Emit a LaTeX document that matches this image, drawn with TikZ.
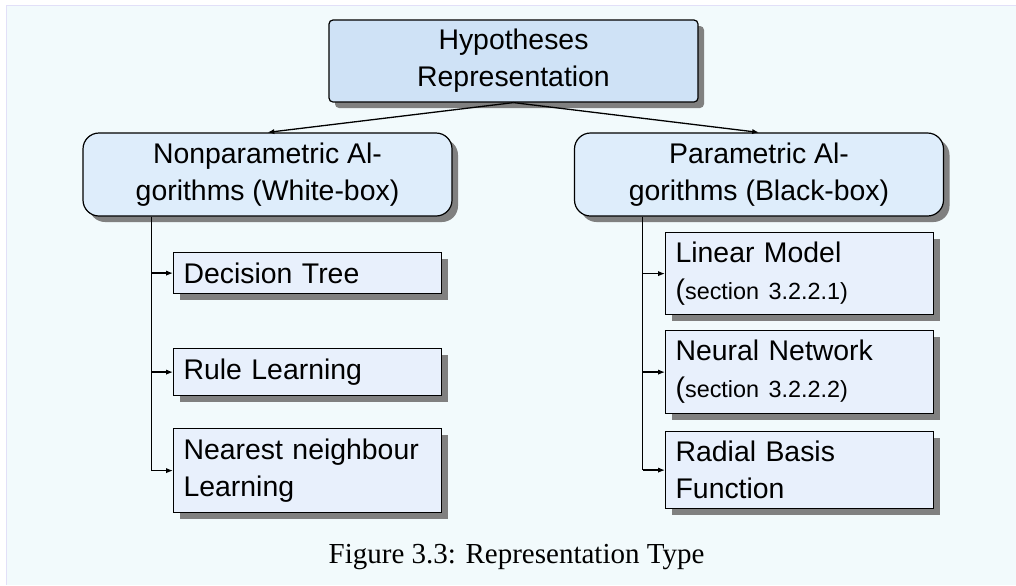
\documentclass[tikz,border=0pt]{standalone}
\usepackage{fontspec}
\setmainfont{Liberation Serif}
\setsansfont{Liberation Sans}
\usetikzlibrary{arrows.meta,shadows}

\definecolor{bgfill}{RGB}{242,250,252}
\definecolor{bgline}{RGB}{226,224,248}
\definecolor{rootfill}{RGB}{207,226,246}
\definecolor{groupfill}{RGB}{222,237,251}
\definecolor{leaffill}{RGB}{232,240,252}

\tikzset{
  wire/.style={line width=0.65pt},
  link/.style={wire, -{Latex[length=3.4pt,width=2.6pt]}},
  boxbase/.style={draw=black, line width=0.6pt,
    font=\sffamily\fontsize{14.2}{18.5}\selectfont,
    drop shadow={shadow xshift=3pt, shadow yshift=-3pt, fill=black!50, opacity=1}},
  rootbox/.style={boxbase, fill=rootfill, rounded corners=2pt,
    minimum width=184.5pt, minimum height=41pt, align=center},
  groupbox/.style={boxbase, fill=groupfill, rounded corners=8pt,
    minimum width=184.5pt, minimum height=41.5pt, align=center},
  leafbox/.style={boxbase, fill=leaffill, text width=124pt,
    inner xsep=5pt, inner ysep=2pt, align=left, anchor=north west},
}
\newcommand{\secref}[1]{({\fontsize{11.7}{17.5}\selectfont section #1)}}

\begin{document}
\begin{tikzpicture}[x=0.5pt, y=-0.5pt]
  \useasboundingbox (0,0) rectangle (1016,585);
  % page background
  \fill[bgfill] (6,5) rectangle (1016,585);
  \draw[bgline, line width=0.4pt] (6,585) -- (6,5) -- (1016,5);

  % top level
  \node[rootbox] (root) at (513.5,61) {Hypotheses\\Representation};

  % the two families
  \node[groupbox] (np) at (267.5,174.5) {Nonparametric Al-\\gorithms (White-box)};
  \node[groupbox] (pa) at (759,174.5) {Parametric Al-\\gorithms (Black-box)};

  \draw[link] (root.south) -- (np.north);
  \draw[link] (root.south) -- (pa.north);

  % nonparametric members
  \node[leafbox, minimum height=20.5pt] (dt) at (173,252) {Decision Tree};
  \node[leafbox, minimum height=23.5pt] (rl) at (173,348) {Rule Learning};
  \node[leafbox, minimum height=42pt]   (nn) at (173,428) {Nearest neighbour\\Learning};

  % parametric members
  \node[leafbox, minimum height=41pt]   (lm) at (665,232) {Linear Model\\\secref{3.2.2.1}};
  \node[leafbox, minimum height=41.5pt] (ne) at (665,330) {Neural Network\\\secref{3.2.2.2}};
  \node[leafbox, minimum height=38.5pt] (rb) at (665,431) {Radial Basis\\Function};

  % trunks, each drawn once
  \path (np.south) ++(-116,0) coordinate (lt);
  \path (pa.south) ++(-116.5,0) coordinate (rt);
  \draw[wire] (lt) -- (lt |- nn.west);
  \draw[wire] (rt) -- (rt |- rb.west);

  % branches into the members
  \draw[link] (lt |- dt.west) -- (dt.west);
  \draw[link] (lt |- rl.west) -- (rl.west);
  \draw[link] (lt |- nn.west) -- (nn.west);
  \draw[link] (rt |- lm.west) -- (lm.west);
  \draw[link] (rt |- ne.west) -- (ne.west);
  \draw[link] (rt |- rb.west) -- (rb.west);

  % caption
  \node[font=\fontsize{14.5}{17}\selectfont, anchor=base] (cap) at (516.5,563)
    {Figure 3.3: Representation Type};
\end{tikzpicture}
\end{document}
